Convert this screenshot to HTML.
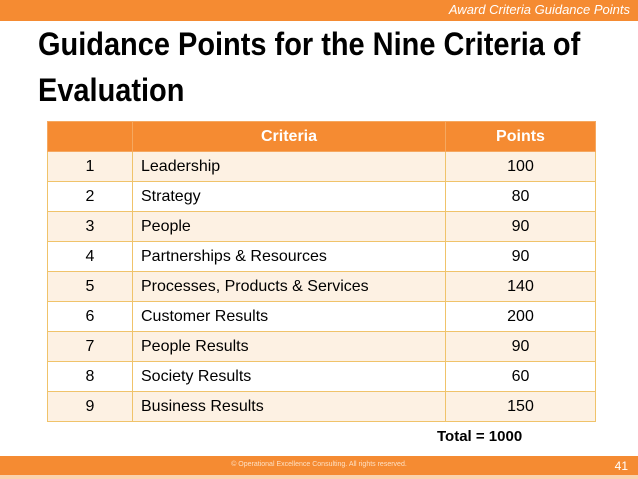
<!DOCTYPE html>
<html><head><style>
body{margin:0;width:638px;height:479px;background:#fff;position:relative;overflow:hidden;font-family:"Liberation Sans",sans-serif}
.top{position:absolute;left:0;top:0;width:638px;height:21px;background:#f58b32}
.top span{position:absolute;right:8px;top:2px;color:#fff;font-style:italic;font-size:13px}
h1{position:absolute;left:38px;top:21px;margin:0;font-family:"Liberation Sans",sans-serif;font-weight:bold;font-size:32px;line-height:46px;color:#000;white-space:nowrap;transform:scaleX(0.905);transform-origin:0 0}
table{position:absolute;left:47px;top:121px;width:549px;border-collapse:collapse;font-size:16px}
td,th{border:1px solid #f0c36a;height:29px;padding:0}
th{background:#f58b32;color:#fff;font-weight:bold;height:29px;border-color:#f5a860}
tr:nth-child(even) td{background:#fdf1e3}
tr:nth-child(odd) td{background:#fff}
td.n{text-align:center;width:84px}
td.c{padding-left:8px;width:304px}
td.p{text-align:center}
.total{position:absolute;left:437px;top:428px;font-weight:bold;font-size:15px}
.foot{position:absolute;left:0;top:456px;width:638px;height:19px;background:#f58b32}
.foot2{position:absolute;left:0;top:475px;width:638px;height:4px;background:#fbd3ad}
.foot span.c{position:absolute;left:0;width:638px;text-align:center;top:5px;font-size:7px;color:#fde0c4}
.foot span.n{position:absolute;right:10px;top:3px;font-size:12px;color:#fff}
</style></head><body>
<div class="top"><span>Award Criteria Guidance Points</span></div>
<h1>Guidance Points for the Nine Criteria of<br>Evaluation</h1>
<table>
<tr><th></th><th>Criteria</th><th>Points</th></tr>
<tr><td class="n">1</td><td class="c">Leadership</td><td class="p">100</td></tr>
<tr><td class="n">2</td><td class="c">Strategy</td><td class="p">80</td></tr>
<tr><td class="n">3</td><td class="c">People</td><td class="p">90</td></tr>
<tr><td class="n">4</td><td class="c">Partnerships &amp; Resources</td><td class="p">90</td></tr>
<tr><td class="n">5</td><td class="c">Processes, Products &amp; Services</td><td class="p">140</td></tr>
<tr><td class="n">6</td><td class="c">Customer Results</td><td class="p">200</td></tr>
<tr><td class="n">7</td><td class="c">People Results</td><td class="p">90</td></tr>
<tr><td class="n">8</td><td class="c">Society Results</td><td class="p">60</td></tr>
<tr><td class="n">9</td><td class="c">Business Results</td><td class="p">150</td></tr>
</table>
<div class="total">Total = 1000</div>
<div class="foot"><span class="c">© Operational Excellence Consulting.  All rights reserved.</span><span class="n">41</span></div>
<div class="foot2"></div>
</body></html>
